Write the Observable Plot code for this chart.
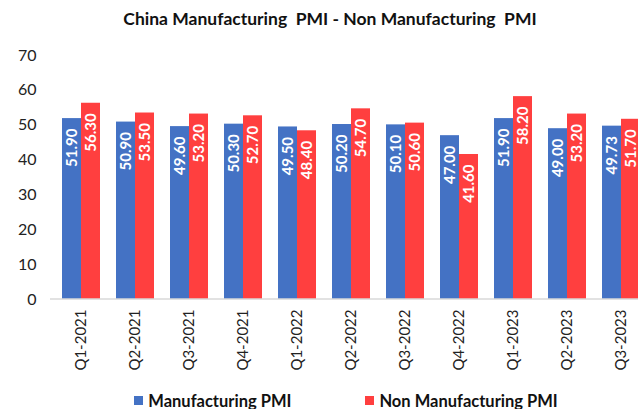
<!DOCTYPE html>
<html><head><meta charset="utf-8">
<script src="https://cdn.jsdelivr.net/npm/d3@7"></script>
<script src="https://cdn.jsdelivr.net/npm/@observablehq/plot@0.6"></script>
<style>
body{margin:0;background:#fff;font-family:Lato,"Open Sans",sans-serif;width:638px;height:409px;overflow:hidden;}
#title{height:40px;box-sizing:border-box;padding-top:8px;padding-left:22px;text-align:center;font-weight:bold;font-size:17.5px;white-space:pre;color:#111;}
#chart{height:330px;}
#legend{display:flex;justify-content:center;align-items:center;height:39px;margin-top:11px;padding-left:54px;font-weight:bold;font-size:16.5px;color:#111;}
#legend .item{display:flex;align-items:center;margin:0 37px;}
#legend .sw{width:9px;height:9px;margin-right:5px;}
</style></head><body>
<div id="title">China Manufacturing  PMI - Non Manufacturing  PMI</div>
<div id="chart"></div>
<div id="legend"></div>
<script>
const quarters = ["Q1-2021","Q2-2021","Q3-2021","Q4-2021","Q1-2022","Q2-2022","Q3-2022","Q4-2022","Q1-2023","Q2-2023","Q3-2023"];
const manufacturing = [51.90,50.90,49.60,50.30,49.50,50.20,50.10,47.00,51.90,49.00,49.73];
const nonManufacturing = [56.30,53.50,53.20,52.70,48.40,54.70,50.60,41.60,58.20,53.20,51.70];
const seriesNames = ["Manufacturing PMI","Non Manufacturing PMI"];
const seriesColors = ["#4472C4","#FF3F3F"];
const yTicks = [0,10,20,30,40,50,60,70];

const rows = [];
quarters.forEach((q,i)=>{
  rows.push({quarter:q, series:seriesNames[0], value:manufacturing[i]});
  rows.push({quarter:q, series:seriesNames[1], value:nonManufacturing[i]});
});

const plot = Plot.plot({
  width:638, height:330,
  marginLeft:50, marginRight:-13, marginTop:15, marginBottom:71,
  style:{fontFamily:"Lato, 'Open Sans', sans-serif", background:"transparent", color:"#222"},
  fx:{domain:quarters, paddingInner:0.275, paddingOuter:0.15, label:null},
  x:{domain:seriesNames, padding:0, axis:null},
  y:{domain:[0,70], label:null},
  color:{domain:seriesNames, range:seriesColors},
  marks:[
    Plot.axisY({ticks:yTicks, tickSize:0, tickPadding:25, fontSize:16, label:null, fill:"#222"}),
    Plot.axisFx({anchor:"bottom", tickRotate:-90, tickSize:0, tickPadding:10, fontSize:15, label:null, fill:"#222"}),
    Plot.barY(rows,{fx:"quarter", x:"series", y:"value", fill:"series"}),
    Plot.text(rows,{fx:"quarter", x:"series", y:"value", text:d=>d.value.toFixed(2), rotate:-90, textAnchor:"end", lineAnchor:"middle", dy:10, fill:"white", fontWeight:"bold", fontSize:15})
  ]
});
document.getElementById("chart").appendChild(plot);

// continuous baseline across facets, positioned with the plot's own y scale
const y0 = plot.scale("y").apply(0);
d3.select(plot).append("line")
  .attr("x1",50).attr("x2",638).attr("y1",y0).attr("y2",y0)
  .attr("stroke","#d9d9d9").attr("stroke-width",1.5);

const legend = d3.select("#legend");
seriesNames.forEach((s,i)=>{
  const it = legend.append("div").attr("class","item");
  it.append("div").attr("class","sw").style("background",seriesColors[i]);
  it.append("span").text(s);
});
</script>
</body></html>
